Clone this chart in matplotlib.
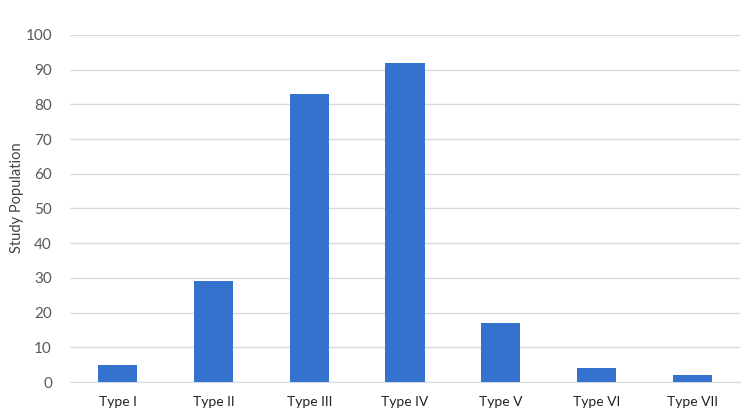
import matplotlib.pyplot as plt
import numpy as np

plt.rcParams['font.family'] = ['Lato', 'DejaVu Sans']

# Data
types = ["Type I", "Type II", "Type III", "Type IV", "Type V", "Type VI", "Type VII"]
population = [5, 29, 83, 92, 17, 4, 2]

fig = plt.figure(figsize=(7.5, 4.16), dpi=100)
ax = fig.add_axes([70 / 750, 1 - 382 / 416, 670 / 750, 347 / 416])

x = np.arange(len(types))
ax.bar(x, population, width=0.41, color='#3572CE', zorder=3)

ax.set_xlim(-0.5, len(types) - 0.5)
ax.set_ylim(0, 100)
ax.set_yticks(np.arange(0, 101, 10))
ax.set_xticks(x)
ax.set_xticklabels(types, fontsize=10, color='#222222')
ax.tick_params(axis='y', labelsize=11, labelcolor='#595959', length=0, pad=13)
ax.tick_params(axis='x', length=0, pad=10)

ax.grid(axis='y', color='#D9D9D9', linewidth=1, zorder=0)
for side in ['top', 'right', 'left']:
    ax.spines[side].set_visible(False)
ax.spines['bottom'].set_color('#D9D9D9')

ax.set_ylabel("Study Population", fontsize=10.5, color='#444444')
ax.yaxis.set_label_coords(-0.068, 0.53)

fig.savefig("out.png", dpi=100)
